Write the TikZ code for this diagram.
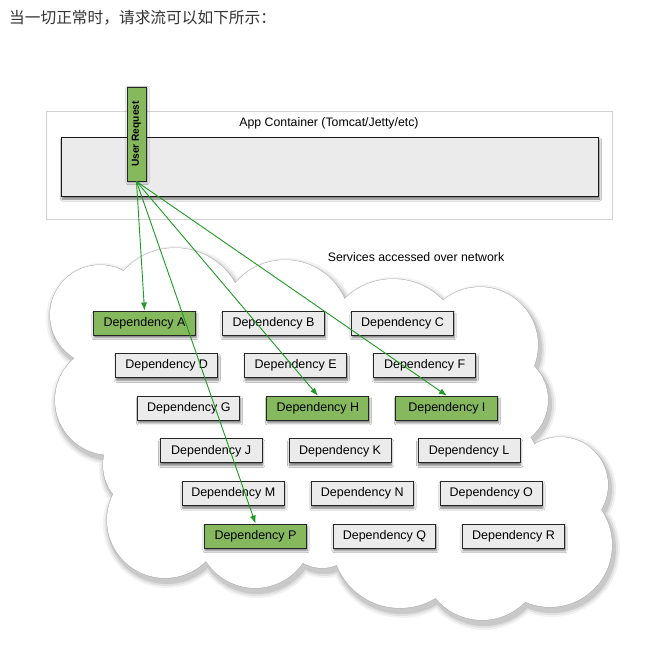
\documentclass[tikz,border=0pt]{standalone}
\usepackage{fontspec}
\setmainfont{Liberation Sans}
\newfontfamily\cjkfont{Noto Sans CJK SC}
\usepackage{tikz}
\usetikzlibrary{positioning, shadows.blur, arrows.meta}
\definecolor{okgreen}{HTML}{86B95D}
\definecolor{linkgreen}{HTML}{1F9A24}
\definecolor{boxgray}{HTML}{EBEBEB}
\definecolor{headgray}{HTML}{333333}
% cloud = union of circles (x/y/r)
\newcommand\cloudparts{100/315/50, 175/317/69, 285/325/65, 393/348/69, 480/345/58, 500/400/48, 515/450/20, 560/485/48, 550/545/62, 482/560/60, 400/540/68, 322/530/38, 255/530/58, 165/520/58, 150/465/47, 110/400/55}

\begin{document}
\begin{tikzpicture}[
    x=1pt, y=-1pt,
    node distance=17.6pt and 26pt,
    every node/.style={font=\fontsize{12.3}{14}\selectfont},
    dep/.style={rectangle, draw=black!85, line width=1pt, fill=boxgray, minimum width=102pt, minimum height=24pt, inner sep=0pt,
                font=\fontsize{12.5}{14}\selectfont,
                blur shadow={shadow xshift=0.6pt, shadow yshift=-2.6pt, shadow blur steps=6, shadow opacity=55}},
    ok/.style={fill=okgreen},
    container/.style={rectangle, draw=black!18, line width=0.8pt, fill=white, minimum width=566pt, minimum height=108pt},
    appbox/.style={rectangle, draw=black!90, line width=1pt, fill=boxgray, minimum width=537pt, minimum height=59pt,
                   blur shadow={shadow xshift=1.5pt, shadow yshift=-3pt, shadow blur steps=6, shadow opacity=55}},
    reqbox/.style={rectangle, draw=black!85, line width=1pt, fill=okgreen, minimum width=94pt, minimum height=19pt, inner sep=0pt,
                   rotate=90, font=\fontsize{10.2}{12}\selectfont\bfseries,
                   blur shadow={shadow xshift=1pt, shadow yshift=-1.5pt, shadow blur steps=4, shadow opacity=40}},
    cloudline/.style={draw=black!32, line width=1pt},
    req/.style={->, >={Latex[length=8pt, width=6pt]}, linkgreen, line width=0.9pt}
]
\useasboundingbox[fill=white] (0,0) rectangle (654,653);

% --- heading ---
\node[anchor=west, inner sep=0pt, text=headgray, font=\cjkfont\fontsize{15.7}{18}\selectfont] (title) at (9,18) {当一切正常时，请求流可以如下所示：};

% --- app container ---
\node[container] (app_outer) at (329,165) {};
\node (app_label) at (329,123) {App Container (Tomcat/Jetty/etc)};
\node[appbox] (app_box) at (329.5,166.5) {};
\node[reqbox] (user_req) at (136.5,134) {User Request};

% --- cloud: shadow, outline, fill ---
\foreach \grow/\op in {6/0.05, 4/0.07, 2/0.10} {
  \begin{scope}[transparency group, opacity=\op, shift={(2,4)}]
    \foreach \cx/\cy/\cr in \cloudparts {\fill[black] (\cx,\cy) circle[radius={(\cr+\grow)*1pt}];}
  \end{scope}
}
\foreach \cx/\cy/\cr in \cloudparts {\draw[cloudline] (\cx,\cy) circle[radius={\cr*1pt}];}
\foreach \cx/\cy/\cr in \cloudparts {\fill[white] (\cx,\cy) circle[radius={\cr*1pt}];}
\fill[white] (130,310) rectangle (520,555);

\node (net_label) at (416,257) {Services accessed over network};

% --- dependencies ---
\node[dep, ok] (dep_a) at (144.5,323) {Dependency A};
\node[dep, right=of dep_a] (dep_b) {Dependency B};
\node[dep, right=of dep_b] (dep_c) {Dependency C};

\node[dep, below=of dep_a, xshift=22.2pt] (dep_d) {Dependency D};
\node[dep, right=of dep_d] (dep_e) {Dependency E};
\node[dep, right=of dep_e] (dep_f) {Dependency F};

\node[dep, below=of dep_d, xshift=22.2pt] (dep_g) {Dependency G};
\node[dep, ok, right=of dep_g] (dep_h) {Dependency H};
\node[dep, ok, right=of dep_h] (dep_i) {Dependency I};

\node[dep, below=of dep_g, xshift=22.2pt] (dep_j) {Dependency J};
\node[dep, right=of dep_j] (dep_k) {Dependency K};
\node[dep, right=of dep_k] (dep_l) {Dependency L};

\node[dep, below=of dep_j, xshift=22.2pt] (dep_m) {Dependency M};
\node[dep, right=of dep_m] (dep_n) {Dependency N};
\node[dep, right=of dep_n] (dep_o) {Dependency O};

\node[dep, ok, below=of dep_m, xshift=22.2pt] (dep_p) {Dependency P};
\node[dep, right=of dep_p] (dep_q) {Dependency Q};
\node[dep, right=of dep_q] (dep_r) {Dependency R};

% --- request flow ---
\draw[req] (user_req.west) -- (dep_a.north);
\draw[req] (user_req.west) -- (dep_p.north);
\draw[req] (user_req.west) -- (dep_h.north);
\draw[req] (user_req.west) -- (dep_i.north);
\end{tikzpicture}
\end{document}
